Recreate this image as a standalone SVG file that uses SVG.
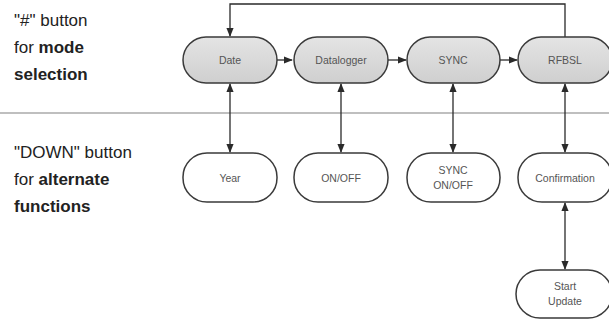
<svg xmlns="http://www.w3.org/2000/svg" width="609" height="320" viewBox="0 0 609 320">
<style>
.lbl{font-family:"Liberation Sans",Arial,sans-serif;font-size:17px;fill:#222}
.b{font-weight:bold}
.node rect{stroke:#3a3a3a;stroke-width:1.5}
.top rect{fill:url(#g)}
.bot rect{fill:#fff}
.node text{font-family:"Liberation Sans",Arial,sans-serif;font-size:10.5px;fill:#555;text-anchor:middle}
.c{stroke:#2a2a2a;stroke-width:1.3;fill:none}
</style>
<defs>
<linearGradient id="g" x1="0" y1="0" x2="0" y2="1"><stop offset="0" stop-color="#e4e4e4"/><stop offset="1" stop-color="#cfcfcf"/></linearGradient>
<marker id="a" viewBox="0 0 10 10" refX="9" refY="5" markerWidth="7" markerHeight="7" orient="auto-start-reverse"><path d="M0,1 L10,5 L0,9 z" fill="#2a2a2a"/></marker>
</defs>
<rect width="609" height="320" fill="#fff"/>
<line x1="0" y1="113" x2="609" y2="113" stroke="#aaa" stroke-width="1.5"/>
<text class="lbl" x="14" y="26">"#" button</text>
<text class="lbl" x="14" y="53">for <tspan class="b">mode</tspan></text>
<text class="lbl" x="14" y="80"><tspan class="b">selection</tspan></text>
<text class="lbl" x="14" y="158">"DOWN" button</text>
<text class="lbl" x="14" y="185">for <tspan class="b">alternate</tspan></text>
<text class="lbl" x="14" y="212"><tspan class="b">functions</tspan></text>
<g id="connectors">
<path class="c" d="M565,37 V4 H230 V36" marker-end="url(#a)"/>
<line class="c" x1="277" y1="60" x2="292" y2="60" marker-end="url(#a)"/>
<line class="c" x1="388" y1="60" x2="406" y2="60" marker-end="url(#a)"/>
<line class="c" x1="500" y1="60" x2="517" y2="60" marker-end="url(#a)"/>
<line class="c" x1="230" y1="84" x2="230" y2="152" marker-start="url(#a)" marker-end="url(#a)"/>
<line class="c" x1="341" y1="84" x2="341" y2="152" marker-start="url(#a)" marker-end="url(#a)"/>
<line class="c" x1="453" y1="84" x2="453" y2="152" marker-start="url(#a)" marker-end="url(#a)"/>
<line class="c" x1="565" y1="84" x2="565" y2="152" marker-start="url(#a)" marker-end="url(#a)"/>
<line class="c" x1="565" y1="203" x2="565" y2="269" marker-start="url(#a)" marker-end="url(#a)"/>
</g>
<g id="n-date" class="node top"><rect x="183" y="37" width="94" height="46" rx="23"/><text x="230" y="64">Date</text></g>
<g id="n-datalogger" class="node top"><rect x="294" y="37" width="94" height="46" rx="23"/><text x="341" y="64">Datalogger</text></g>
<g id="n-sync" class="node top"><rect x="407" y="37" width="93" height="46" rx="23"/><text x="453" y="64">SYNC</text></g>
<g id="n-rfbsl" class="node top"><rect x="518" y="37" width="94" height="46" rx="23"/><text x="565" y="64">RFBSL</text></g>
<g id="n-year" class="node bot"><rect x="183" y="153" width="94" height="49" rx="24"/><text x="230" y="182">Year</text></g>
<g id="n-onoff" class="node bot"><rect x="294" y="153" width="94" height="49" rx="24"/><text x="341" y="182">ON/OFF</text></g>
<g id="n-synconoff" class="node bot"><rect x="407" y="153" width="93" height="49" rx="24"/><text x="453" y="174">SYNC</text><text x="453" y="189">ON/OFF</text></g>
<g id="n-confirmation" class="node bot"><rect x="518" y="153" width="94" height="49" rx="24"/><text x="565" y="182">Confirmation</text></g>
<g id="n-startupdate" class="node bot"><rect x="516" y="270" width="96" height="48" rx="24"/><text x="565" y="290">Start</text><text x="565" y="305">Update</text></g>
</svg>
